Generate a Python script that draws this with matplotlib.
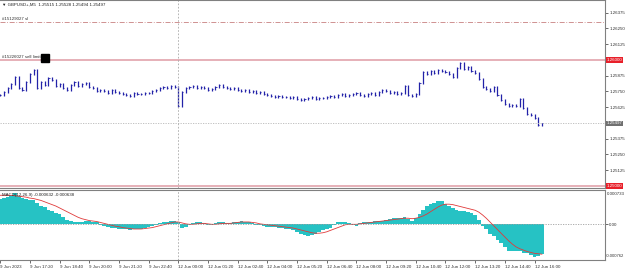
import matplotlib.pyplot as plt
import matplotlib.transforms as mtransforms
import numpy as np

# GBPUSD M5 chart (sampled every 10 minutes), price + MACD(12,26,9)
closes = [1.25722, 1.25746, 1.25778, 1.25809, 1.25865, 1.25778, 1.25762, 1.25825, 1.25889, 1.25921,
          1.25778, 1.25825, 1.25802, 1.25857, 1.25841, 1.25794, 1.25809, 1.25778, 1.25762, 1.25802,
          1.25825, 1.25794, 1.25809, 1.25817, 1.25786, 1.25778, 1.25754, 1.25762, 1.25754, 1.25738,
          1.25762, 1.25746, 1.25738, 1.25730, 1.25722, 1.25714, 1.25738, 1.25730, 1.25730, 1.25738,
          1.25738, 1.25754, 1.25762, 1.25778, 1.25786, 1.25778, 1.25794, 1.25786, 1.25635, 1.25746,
          1.25778, 1.25786, 1.25794, 1.25778, 1.25786, 1.25778, 1.25762, 1.25770, 1.25786, 1.25802,
          1.25786, 1.25778, 1.25770, 1.25778, 1.25762, 1.25754, 1.25762, 1.25746, 1.25754, 1.25738,
          1.25746, 1.25730, 1.25722, 1.25714, 1.25706, 1.25714, 1.25706, 1.25706, 1.25698, 1.25706,
          1.25690, 1.25682, 1.25690, 1.25698, 1.25706, 1.25690, 1.25698, 1.25698, 1.25706, 1.25714,
          1.25706, 1.25722, 1.25730, 1.25714, 1.25722, 1.25730, 1.25738, 1.25722, 1.25714, 1.25730,
          1.25738, 1.25722, 1.25746, 1.25762, 1.25754, 1.25738, 1.25746, 1.25730, 1.25738, 1.25794,
          1.25722, 1.25714, 1.25730, 1.25817, 1.25905, 1.25889, 1.25913, 1.25897, 1.25921, 1.25913,
          1.25905, 1.25889, 1.25865, 1.25936, 1.25976, 1.25929, 1.25944, 1.25913, 1.25897, 1.25849,
          1.25786, 1.25770, 1.25754, 1.25786, 1.25722, 1.25682, 1.25651, 1.25635, 1.25643, 1.25635,
          1.25690, 1.25619, 1.25571, 1.25563, 1.25539, 1.25484, 1.25497]

macd = [0.00055, 0.00057, 0.00059, 0.00061, 0.00066, 0.00061, 0.00057, 0.00053, 0.00051, 0.00051,
        0.00046, 0.00040, 0.00036, 0.00031, 0.00029, 0.00025, 0.00021, 0.00016, 0.00010, 0.00008,
        0.00006, 0.00006, 0.00006, 0.00008, 0.00008, 0.00006, 0.00004, -0.00001, -0.00003, -0.00005,
        -0.00007, -0.00007, -0.00009, -0.00011, -0.00011, -0.00013, -0.00011, -0.00009, -0.00009, -0.00007,
        -0.00005, -0.00003, -0.00001, 0.00002, 0.00004, 0.00006, 0.00008, 0.00008, 0.00004, -0.00007,
        -0.00005, -0.00001, 0.00002, 0.00004, 0.00004, 0.00002, -0.00001, -0.00001, 0.00002, 0.00004,
        0.00004, 0.00002, 0.00002, 0.00004, 0.00006, 0.00008, 0.00006, 0.00004, 0.00002, -0.00001,
        -0.00001, -0.00003, -0.00005, -0.00005, -0.00005, -0.00007, -0.00007, -0.00009, -0.00009, -0.00013,
        -0.00016, -0.00020, -0.00022, -0.00024, -0.00022, -0.00020, -0.00016, -0.00013, -0.00011, -0.00007,
        -0.00001, 0.00004, 0.00006, 0.00006, 0.00002, -0.00001, -0.00003, 0.00002, 0.00006, 0.00006,
        0.00006, 0.00008, 0.00008, 0.00008, 0.00010, 0.00012, 0.00014, 0.00014, 0.00014, 0.00016,
        0.00012, 0.00008, 0.00014, 0.00023, 0.00031, 0.00040, 0.00044, 0.00046, 0.00049, 0.00049,
        0.00044, 0.00040, 0.00034, 0.00031, 0.00029, 0.00029, 0.00027, 0.00025, 0.00019, 0.00010,
        -0.00003, -0.00011, -0.00020, -0.00026, -0.00033, -0.00039, -0.00048, -0.00056, -0.00058, -0.00058,
        -0.00058, -0.00061, -0.00061, -0.00065, -0.00069, -0.00067, -0.000632]

signal = [0.00062, 0.00062, 0.00062, 0.00062, 0.00061, 0.00060, 0.00059, 0.00058, 0.00056, 0.00055,
          0.00053, 0.00051, 0.00048, 0.00045, 0.00042, 0.00039, 0.00035, 0.00031, 0.00027, 0.00023,
          0.00019, 0.00015, 0.00012, 0.00010, 0.00008, 0.00007, 0.00006, 0.00004, 0.00002, 0.00000,
          -0.00002, -0.00004, -0.00005, -0.00007, -0.00008, -0.00009, -0.00010, -0.00010, -0.00010, -0.00009,
          -0.00008, -0.00007, -0.00005, -0.00003, -0.00001, 0.00001, 0.00003, 0.00005, 0.00005, 0.00003,
          0.00001, 0.00000, 0.00000, 0.00001, 0.00002, 0.00002, 0.00001, 0.00000, 0.00000, 0.00001,
          0.00002, 0.00002, 0.00002, 0.00003, 0.00004, 0.00005, 0.00005, 0.00005, 0.00004, 0.00003,
          0.00001, 0.00000, -0.00001, -0.00002, -0.00003, -0.00004, -0.00005, -0.00006, -0.00007, -0.00008,
          -0.00010, -0.00012, -0.00014, -0.00016, -0.00018, -0.00019, -0.00019, -0.00018, -0.00016, -0.00013,
          -0.00010, -0.00007, -0.00004, -0.00001, 0.00000, 0.00000, 0.00000, 0.00001, 0.00002, 0.00003,
          0.00004, 0.00005, 0.00006, 0.00007, 0.00008, 0.00009, 0.00010, 0.00011, 0.00012, 0.00013,
          0.00013, 0.00012, 0.00013, 0.00015, 0.00018, 0.00022, 0.00027, 0.00032, 0.00037, 0.00041,
          0.00043, 0.00043, 0.00042, 0.00040, 0.00038, 0.00036, 0.00034, 0.00032, 0.00030, 0.00026,
          0.00020, 0.00013, 0.00005, -0.00003, -0.00011, -0.00019, -0.00027, -0.00035, -0.00042, -0.00048,
          -0.00052, -0.00055, -0.00058, -0.00060, -0.00062, -0.00063, -0.000638]

time_labels = ['9 Jun 2023', '9 Jun 17:20', '9 Jun 18:40', '9 Jun 20:00', '9 Jun 21:20',
               '9 Jun 22:40', '12 Jun 00:00', '12 Jun 01:20', '12 Jun 02:40', '12 Jun 04:00',
               '12 Jun 05:20', '12 Jun 06:40', '12 Jun 08:00', '12 Jun 09:20', '12 Jun 10:40',
               '12 Jun 12:00', '12 Jun 13:20', '12 Jun 14:40', '12 Jun 16:00']
price_ticks = [1.26375, 1.26250, 1.26125, 1.25875, 1.25750, 1.25625, 1.25375, 1.25250, 1.25125]

sell_limit = 1.26000
sl_level = 1.26305
low_level = 1.25000
ohlc_title = 'GBPUSD+,M5  1.25515 1.25528 1.25494 1.25497'
macd_title = 'MACD(12,26,9) -0.000632 -0.000638'

plt.rcParams['font.family'] = ['Liberation Sans', 'DejaVu Sans']
fs = 3.2
frame = '#808080'
txt = '#303030'

fig = plt.figure(figsize=(6.25, 2.74), dpi=100)
ax = fig.add_axes([0, 0.3139, 0.968, 0.6861])
ax2 = fig.add_axes([0, 0.0511, 0.968, 0.2555], sharex=ax)

n = len(closes)
x = np.arange(n)
c = np.array(closes)
o = np.r_[c[0], c[:-1]]
lo = np.minimum(o, c) - 0.00006
hi = np.maximum(o, c) + 0.00006
bar_col = '#2222a8'
ax.vlines(x, lo, hi, color=bar_col, lw=0.9)
ax.hlines(c, x, x + 0.3, color=bar_col, lw=0.6)

xmin, xmax = -0.05, 163.0
ax.set_xlim(xmin, xmax)
ax.set_ylim(1.24984, 1.26476)

# order / level lines
ax.axhline(sell_limit, color='#e6b0b8', lw=1.4)
ax.axhline(low_level, color='#e6b0b8', lw=1.4)
ax.axhline(sl_level, color='#c88080', lw=0.6, ls=(0, (6, 2, 1, 2)))
ax.axhline(c[-1], color='#b8b8b8', lw=0.6, ls=(0, (1.5, 1.5)))
ax.axvline(48, color='#a8a8a8', lw=0.6, ls=(0, (2, 2)))

blend = mtransforms.blended_transform_factory(ax.transAxes, ax.transData)
ax.text(0.004, 0.985, '\u25bc ' + ohlc_title, transform=ax.transAxes, fontsize=fs,
        va='top', ha='left', color='#202020')
ax.text(0.004, sl_level + 0.00004, '#15129027 sl', transform=blend, fontsize=fs,
        va='bottom', ha='left', color=txt)
ax.text(0.004, sell_limit + 0.00004, '#15226027 sell limit', transform=blend, fontsize=fs,
        va='bottom', ha='left', color=txt)
ax.plot([0.075], [sell_limit + 0.00017], transform=blend, marker='s', ms=6.0,
        color='black', mec='black')

ax.yaxis.tick_right()
ax.set_yticks(price_ticks)
ax.set_yticklabels(['%.5f' % v for v in price_ticks])
ax.tick_params(axis='y', length=2, width=0.5, pad=1, labelsize=fs, colors=txt)
ax.tick_params(axis='x', bottom=False, labelbottom=False)
ax.spines['left'].set_visible(False)
for s in ['top', 'right', 'bottom']:
    ax.spines[s].set_color(frame)
    ax.spines[s].set_linewidth(0.8)

# price tags on the right axis
def tag(axis, y, text, face, tcol):
    axis.text(1.002, y, text, transform=axis.get_yaxis_transform(), fontsize=fs,
              va='center', ha='left', color=tcol,
              bbox=dict(boxstyle='square,pad=0.15', fc=face, ec='none'))

tag(ax, sell_limit, '%.5f' % sell_limit, '#e8202a', 'white')
tag(ax, low_level, '%.5f' % low_level, '#e8202a', 'white')
tag(ax, c[-1], '%.5f' % c[-1], '#707070', 'white')

# MACD panel
ax2.bar(x, macd, width=1.0, color='#26c2c4', linewidth=0)
ax2.plot(x, signal, color='#e03a3a', lw=0.6)
ax2.axhline(0, color='#a0a0a0', lw=0.6, ls=(0, (1.5, 1.5)))
ax2.axvline(48, color='#a8a8a8', lw=0.6, ls=(0, (2, 2)))
ax2.set_ylim(-0.000762, 0.000733)
ax2.text(0.004, 0.96, macd_title, transform=ax2.transAxes, fontsize=fs, va='top', ha='left',
         color='#202020')
ax2.yaxis.tick_right()
ax2.set_yticks([0.0])
ax2.set_yticklabels(['0.00'])
ax2.text(1.003, 0.97, '0.000733', transform=ax2.transAxes, fontsize=fs, va='top', ha='left',
         color=txt)
ax2.text(1.002, 0.03, '-0.000762', transform=ax2.transAxes, fontsize=3.0, va='bottom', ha='left',
         color=txt)
ax2.tick_params(axis='y', length=2, width=0.5, pad=1, labelsize=fs, colors=txt)
ax2.spines['left'].set_visible(False)
for s in ['top', 'right', 'bottom']:
    ax2.spines[s].set_color(frame)
    ax2.spines[s].set_linewidth(0.8)

tick_pos = np.arange(0, 8 * len(time_labels), 8)
ax2.set_xticks(tick_pos)
ax2.set_xticklabels(time_labels, ha='left')
ax2.tick_params(axis='x', length=2, width=0.5, pad=1.5, labelsize=fs, colors=txt)
ax2.set_xlim(xmin, xmax)

fig.savefig('out.png', dpi=100)
